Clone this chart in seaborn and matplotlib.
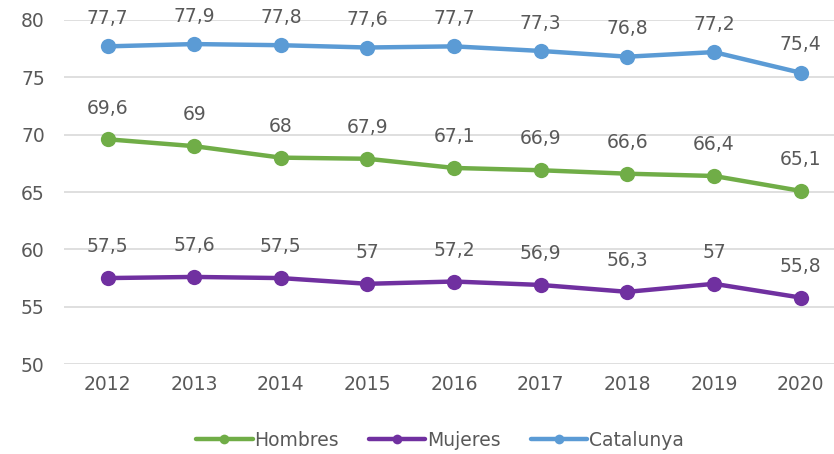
import pandas as pd
import seaborn as sns
import matplotlib.pyplot as plt

# Data
years = ['2012', '2013', '2014', '2015', '2016', '2017', '2018', '2019', '2020']
hombres = [69.6, 69.0, 68.0, 67.9, 67.1, 66.9, 66.6, 66.4, 65.1]
mujeres = [57.5, 57.6, 57.5, 57.0, 57.2, 56.9, 56.3, 57.0, 55.8]
catalunya = [77.7, 77.9, 77.8, 77.6, 77.7, 77.3, 76.8, 77.2, 75.4]

series_names = ['Hombres', 'Mujeres', 'Catalunya']
colors = ['#70AD47', '#7030A0', '#5B9BD5']

df = pd.DataFrame({'Año': years, 'Hombres': hombres, 'Mujeres': mujeres, 'Catalunya': catalunya})
long_df = df.melt(id_vars='Año', var_name='Serie', value_name='Valor')
long_df['x'] = long_df['Año'].map({y: i for i, y in enumerate(years)})

sns.set_theme(style='white')
plt.rcParams['font.family'] = ['DejaVu Sans']
text_color = '#595959'
fs = 13.5

fig = plt.figure(figsize=(8.34, 4.54), dpi=100)
ax = fig.add_axes([0.077, 0.198, 0.935, 0.758])

sns.lineplot(data=long_df, x='x', y='Valor', hue='Serie', hue_order=series_names,
             palette=colors, marker='o', markersize=11, markeredgewidth=0,
             linewidth=3.2, ax=ax, legend=True)

# Data labels (top row kept inside the chart area, like Excel does)
for name in series_names:
    offset = 20 if name == 'Catalunya' else 22.5
    for i, v in enumerate(df[name]):
        ax.annotate(f'{v:g}'.replace('.', ','), (i, v), xytext=(0, offset),
                    textcoords='offset points', ha='center', va='center',
                    fontsize=fs, color=text_color)

ax.set_xlim(-0.5, 8.5)
ax.set_ylim(50, 80)
ax.set_yticks(range(50, 81, 5))
ax.set_xticks(range(len(years)))
ax.set_xticklabels(years)
ax.yaxis.grid(True, color='#D9D9D9', linewidth=1.2)
ax.set_axisbelow(True)
for s in ax.spines.values():
    s.set_visible(False)
ax.tick_params(axis='both', colors=text_color, labelsize=fs, length=0)
ax.tick_params(axis='x', pad=8)
ax.tick_params(axis='y', pad=14)
ax.set_xlabel('')
ax.set_ylabel('')

handles, labels = ax.get_legend_handles_labels()
for h in handles:
    h.set_markersize(7)
    h.set_linewidth(3.2)
leg = ax.legend(handles, labels, loc='center', bbox_to_anchor=(0.482, -0.221),
                ncol=3, frameon=False, fontsize=fs, handlelength=3.0,
                handletextpad=0.1, columnspacing=1.6, labelcolor=text_color)

fig.savefig('out.png', dpi=100)
